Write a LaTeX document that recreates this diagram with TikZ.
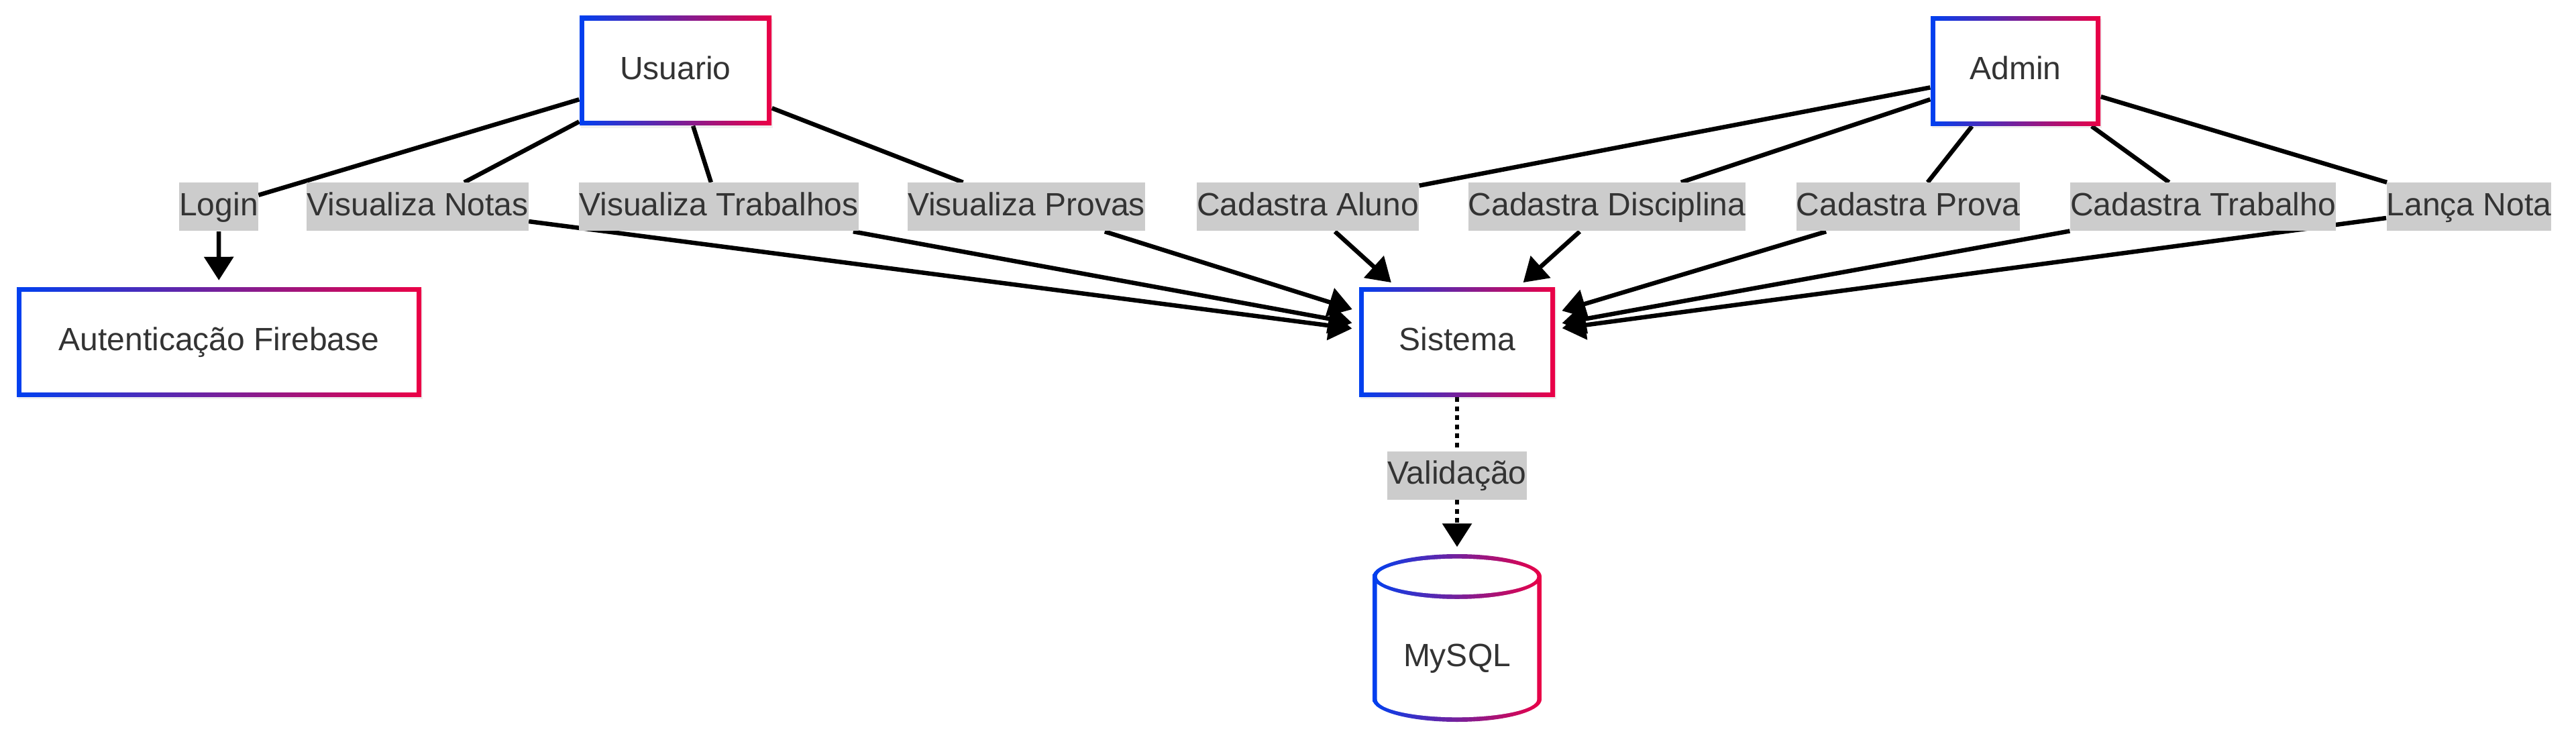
\documentclass[tikz,border=0pt]{standalone}
\usepackage{fontspec}
\setmainfont{Liberation Sans}
\usetikzlibrary{arrows.meta,positioning,calc,shadows,backgrounds}
\definecolor{gblue}{RGB}{0,64,240}
\definecolor{gred}{RGB}{235,0,70}
\definecolor{txtgray}{RGB}{51,51,51}
\definecolor{lblgray}{RGB}{204,204,204}
\newcommand{\dgfont}{\fontsize{13.66pt}{16.4pt}\selectfont}
\tikzset{
  flowblk/.style={rectangle,left color=gblue,right color=gred,text=txtgray,font=\dgfont,
    minimum height=1.63cm,inner sep=0pt,text height=0.36cm,text depth=0.1cm,
    drop shadow={opacity=0.12,shadow xshift=0.02cm,shadow yshift=-0.04cm},
    path picture={\fill[white] ([shift={(0.067cm,0.067cm)}]path picture bounding box.south west)
      rectangle ([shift={(-0.067cm,-0.067cm)}]path picture bounding box.north east);}},
  dbblk/.style={rectangle,text=txtgray,font=\dgfont,minimum width=2.52cm,minimum height=2.50cm,
    inner sep=0pt,text height=0.94cm,text depth=0.1cm,
    path picture={
      \shade[left color=gblue,right color=gred]
        ([yshift=-0.335cm]path picture bounding box.north west)
        arc[start angle=180,end angle=0,x radius=1.26cm,y radius=0.335cm]
        -- ([yshift=0.335cm]path picture bounding box.south east)
        arc[start angle=0,end angle=-180,x radius=1.26cm,y radius=0.335cm] -- cycle;
      \fill[white] ([yshift=-0.335cm]path picture bounding box.north)
        ellipse[x radius=1.193cm,y radius=0.268cm];
      \fill[white] ([xshift=0.067cm,yshift=-0.443cm]path picture bounding box.north west)
        arc[start angle=198.8,end angle=341.2,x radius=1.26cm,y radius=0.335cm]
        -- ([xshift=-0.067cm,yshift=0.335cm]path picture bounding box.south east)
        arc[start angle=0,end angle=-180,x radius=1.193cm,y radius=0.268cm] -- cycle;}},
  edgelbl/.style={rectangle,fill=lblgray,text=txtgray,font=\dgfont,inner sep=0pt,
    minimum height=0.72cm,text height=0.36cm,text depth=0.1cm},
  ln/.style={line width=0.065cm},
  arr/.style={ln,-{Triangle[length=0.35cm,width=0.43cm]},shorten >=0.1cm},
  dotln/.style={ln,dash pattern=on 0.07cm off 0.065cm},
  dotarr/.style={arr,dash pattern=on 0.07cm off 0.065cm}
}
\begin{document}
\begin{tikzpicture}
  \useasboundingbox (0,0) rectangle (38.4,-11.18);
  % Actors
  \node[flowblk,minimum width=2.86cm] (usr) at (10.07,-1.055) {Usuario};
  \node[flowblk,minimum width=2.53cm] (adm) at (30.045,-1.06) {Admin};

  % Services
  \node[flowblk,minimum width=6.03cm] (auth) at (3.265,-5.10) {Autenticação Firebase};
  \node[flowblk,minimum width=2.92cm] (sis) at (21.72,-5.10) {Sistema};
  \node[dbblk] (db) at (21.72,-9.51) {MySQL};

  % Edge labels
  \node[edgelbl] (lLogin) at (3.26,-3.085) {Login};
  \node[edgelbl] (lNotas) at (6.225,-3.085) {Visualiza Notas};
  \node[edgelbl] (lTrabs) at (10.715,-3.085) {Visualiza Trabalhos};
  \node[edgelbl] (lProvas) at (15.30,-3.085) {Visualiza Provas};
  \node[edgelbl] (lAluno) at (19.495,-3.085) {Cadastra Aluno};
  \node[edgelbl] (lDisc) at (23.955,-3.085) {Cadastra Disciplina};
  \node[edgelbl] (lProva) at (28.445,-3.085) {Cadastra Prova};
  \node[edgelbl] (lTrab) at (32.84,-3.085) {Cadastra Trabalho};
  \node[edgelbl] (lNota) at (36.805,-3.085) {Lança Nota};
  \node[edgelbl] (lValid) at (21.72,-7.085) {Validação};

  % Connections
  \begin{scope}[on background layer]
    \draw[ln] (usr) -- (lLogin);
    \draw[arr] (lLogin) -- (auth);
    \foreach \l in {lNotas,lTrabs,lProvas} {
      \draw[ln] (usr) -- (\l);
      \draw[arr] (\l) -- (sis);
    }
    \foreach \l in {lAluno,lDisc,lProva,lTrab,lNota} {
      \draw[ln] (adm) -- (\l);
      \draw[arr] (\l) -- (sis);
    }
    \draw[dotln] (sis) -- (lValid);
    \draw[dotarr] (lValid) -- (db);
  \end{scope}
\end{tikzpicture}
\end{document}
